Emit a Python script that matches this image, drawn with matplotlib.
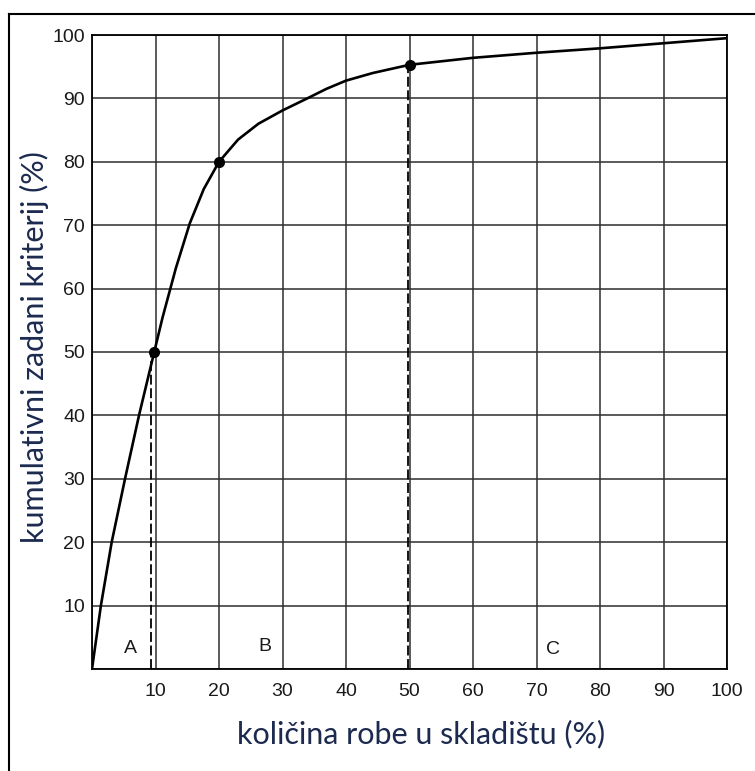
"""ABC analysis curve: cumulative criterion vs. share of stock."""

import numpy as np
from matplotlib import pyplot as plt
from matplotlib.lines import Line2D

# cumulative curve (x: % of stock, y: cumulative %)
curve_x = [0, 1.4, 3.1, 5.2, 7.4, 9.8, 11.1, 13.2, 15.4, 17.6, 20, 23, 26.2,
           30, 33.9, 36.9, 40, 44.2, 50, 60, 70, 80, 90, 100]
curve_y = [0, 10, 20, 30, 40, 50, 55.4, 63.2, 70.3, 75.7, 80, 83.5, 86,
           88.1, 90, 91.5, 92.8, 94, 95.3, 96.4, 97.2, 97.9, 98.7, 99.5]

# marked points on the curve
marker_x = [9.8, 20, 50]
marker_y = [50, 80, 95.3]

# dashed class borders (x, top)
border_x = [9.3, 49.7]
border_top = [50, 95.3]

# class labels
class_names = ['A', 'B', 'C']
class_x = [6.1, 27.2, 72.6]
class_y = [3.3, 3.5, 3.0]

ticks = list(range(10, 101, 10))
grid = list(range(0, 101, 10))

W, H = 755, 771
fig = plt.figure(figsize=(W / 100, H / 100), dpi=100)
ax = fig.add_axes([92 / W, 1 - 669 / H, (727 - 92) / W, (669 - 35) / H])

ink = '#1a1a1a'
for g in grid:
    ax.axvline(g, color='#2e2e2e', lw=1.1, zorder=1)
    ax.axhline(g, color='#2e2e2e', lw=1.1, zorder=1)

ax.plot(curve_x, curve_y, color='black', lw=1.9, zorder=3,
        solid_capstyle='round', solid_joinstyle='round')
ax.plot(marker_x, marker_y, 'o', color='black', ms=7, zorder=4)
for bx, top in zip(border_x, border_top):
    ax.plot([bx, bx], [0, top], color='black', lw=1.3, ls=(0, (5.5, 2)), zorder=2)

for name, cx, cy in zip(class_names, class_x, class_y):
    ax.text(cx, cy, name, ha='center', va='center', fontsize=14,
            family='Liberation Sans', color=ink)

ax.set_xlim(0, 100)
ax.set_ylim(0, 100)
ax.set_xticks(ticks)
ax.set_yticks(ticks)
ax.tick_params(length=0, labelsize=14, colors=ink)
ax.tick_params(axis='x', pad=10)
ax.tick_params(axis='y', pad=5)
for lab in ax.get_xticklabels() + ax.get_yticklabels():
    lab.set_family('Liberation Sans')
for sp in ax.spines.values():
    sp.set_color('black')
    sp.set_linewidth(1.3)

label_color = '#1b2a4e'
fig.text(34 / W, 1 - 347 / H, 'kumulativni zadani kriterij (%)', rotation=90,
         ha='center', va='center', fontsize=22, family='Lato', color=label_color)
fig.text(421 / W, 1 - 734 / H, 'količina robe u skladištu (%)',
         ha='center', va='center', fontsize=22, family='Lato', color=label_color)

# frame around the figure (cut off on the right and bottom)
fig.add_artist(Line2D([9.3 / W, 9.3 / W], [0, 1 - 14 / H], color='black', lw=1.5))
fig.add_artist(Line2D([9.3 / W, 1], [1 - 14 / H, 1 - 14 / H], color='black', lw=1.5))

fig.savefig('out.png', dpi=100)
plt.close(fig)
